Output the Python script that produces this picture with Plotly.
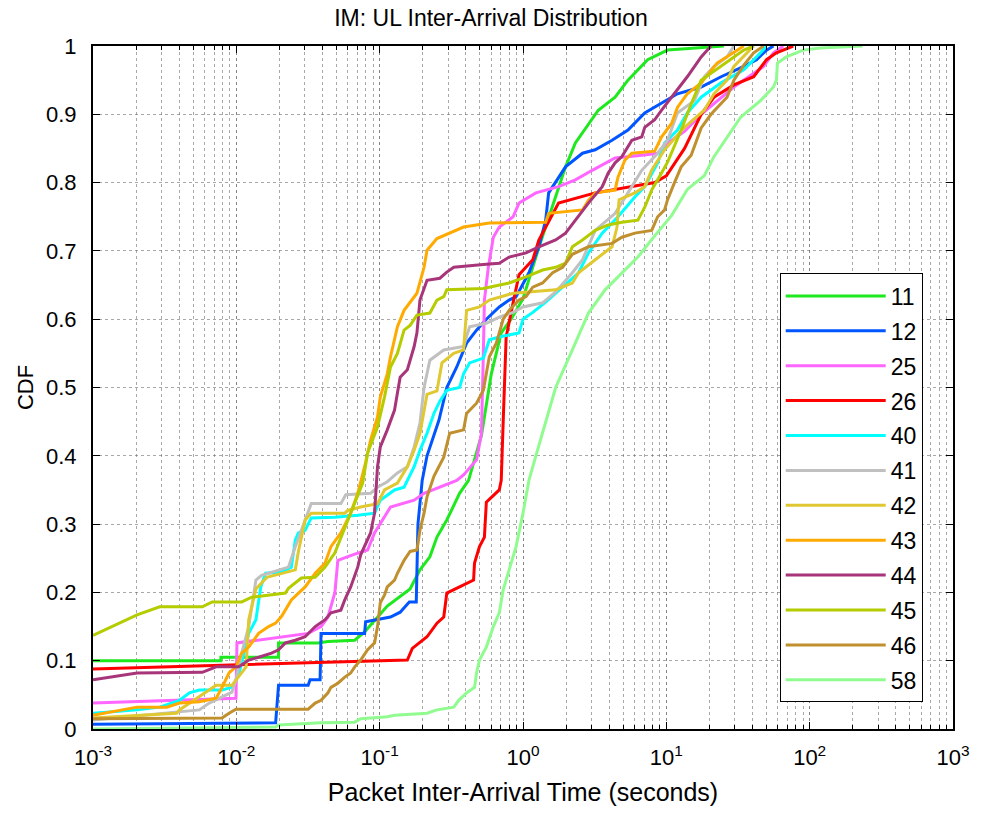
import plotly.graph_objects as go

# Empirical CDFs of uplink packet inter-arrival times (seconds) per device
t_11 = [0.001, 0.0078, 0.0078, 0.0197, 0.0197, 0.0372, 0.0436, 0.067, 0.0785, 0.0966, 0.113, 0.163, 0.191, 0.224, 0.251, 0.294, 0.361, 0.417, 0.513, 0.601, 0.705, 0.826, 1.0, 1.29, 1.64, 1.98, 2.32, 3.35, 4.39, 5.40, 7.41, 10.2, 25.2]
p_11 = [0.100, 0.100, 0.105, 0.105, 0.126, 0.126, 0.128, 0.130, 0.142, 0.163, 0.180, 0.205, 0.233, 0.252, 0.281, 0.306, 0.345, 0.364, 0.43, 0.52, 0.58, 0.60, 0.63, 0.705, 0.77, 0.823, 0.858, 0.906, 0.925, 0.95, 0.98, 0.994, 1.0]

t_12 = [0.001, 0.0188, 0.0197, 0.0317, 0.0327, 0.0384, 0.039, 0.0785, 0.0798, 0.119, 0.139, 0.161, 0.18, 0.185, 0.198, 0.214, 0.259, 0.294, 0.345, 0.404, 0.474, 0.555, 0.683, 0.80, 0.895, 1.10, 1.29, 1.44, 1.51, 1.98, 2.60, 3.19, 4.18, 5.40, 7.07, 9.27, 11.95, 17.5, 24.1, 34.7, 42.6, 50.0, 55.9]
p_12 = [0.007, 0.009, 0.064, 0.064, 0.072, 0.072, 0.14, 0.14, 0.157, 0.164, 0.171, 0.186, 0.186, 0.30, 0.364, 0.40, 0.452, 0.50, 0.53, 0.565, 0.584, 0.60, 0.618, 0.628, 0.633, 0.668, 0.706, 0.745, 0.785, 0.823, 0.843, 0.848, 0.862, 0.877, 0.902, 0.917, 0.93, 0.94, 0.955, 0.97, 0.98, 0.994, 1.0]

t_25 = [0.001, 0.00994, 0.0101, 0.0317, 0.039, 0.0436, 0.0487, 0.0511, 0.067, 0.0824, 0.0921, 0.119, 0.174, 0.204, 0.345, 0.385, 0.474, 0.513, 0.529, 0.538, 0.573, 0.621, 0.683, 0.853, 0.938, 1.23, 1.77, 2.32, 3.04, 4.39, 6.74, 8.70, 10.2, 13.4, 17.5, 29.6, 47.7, 55.9, 65.5]
p_25 = [0.038, 0.045, 0.126, 0.14, 0.15, 0.164, 0.20, 0.247, 0.256, 0.262, 0.287, 0.325, 0.335, 0.345, 0.364, 0.372, 0.394, 0.433, 0.55, 0.628, 0.676, 0.72, 0.735, 0.75, 0.77, 0.785, 0.794, 0.804, 0.818, 0.836, 0.84, 0.843, 0.858, 0.875, 0.90, 0.94, 0.97, 0.99, 1.0]

t_26 = [0.001, 0.113, 0.156, 0.169, 0.214, 0.251, 0.280, 0.294, 0.452, 0.459, 0.497, 0.538, 0.555, 0.683, 0.705, 0.728, 0.763, 0.853, 0.938, 1.17, 1.29, 1.77, 3.19, 6.03, 8.29, 10.0, 13.4, 17.5, 21.5, 29.6, 40.7, 50.0, 58.6, 76.8]
p_26 = [0.088, 0.101, 0.101, 0.118, 0.135, 0.155, 0.164, 0.199, 0.218, 0.243, 0.267, 0.281, 0.332, 0.35, 0.364, 0.452, 0.574, 0.624, 0.665, 0.687, 0.716, 0.77, 0.785, 0.795, 0.80, 0.81, 0.85, 0.90, 0.925, 0.943, 0.955, 0.98, 0.99, 1.0]

t_40 = [0.001, 0.00203, 0.00292, 0.00401, 0.00471, 0.00552, 0.00795, 0.00932, 0.0104, 0.0122, 0.0137, 0.0148, 0.016, 0.0207, 0.0242, 0.0258, 0.0271, 0.0302, 0.0333, 0.0487, 0.0703, 0.0921, 0.101, 0.127, 0.148, 0.174, 0.191, 0.214, 0.239, 0.263, 0.294, 0.361, 0.385, 0.424, 0.529, 0.582, 0.683, 0.938, 1.0, 1.17, 1.44, 1.89, 2.44, 2.86, 3.57, 4.60, 6.03, 7.07, 8.70, 9.72, 11.95, 14.0, 17.5, 24.1, 34.7, 45.4, 50.0]
p_40 = [0.023, 0.028, 0.032, 0.042, 0.053, 0.057, 0.057, 0.061, 0.08, 0.14, 0.16, 0.208, 0.228, 0.23, 0.237, 0.277, 0.287, 0.291, 0.309, 0.31, 0.313, 0.316, 0.335, 0.35, 0.354, 0.384, 0.408, 0.433, 0.462, 0.48, 0.496, 0.50, 0.52, 0.536, 0.543, 0.57, 0.574, 0.58, 0.60, 0.61, 0.625, 0.647, 0.668, 0.697, 0.726, 0.75, 0.779, 0.794, 0.829, 0.858, 0.877, 0.902, 0.925, 0.946, 0.965, 0.99, 1.0]

t_41 = [0.001, 0.00552, 0.00647, 0.00932, 0.00994, 0.0109, 0.0122, 0.0137, 0.015, 0.0231, 0.0258, 0.0284, 0.0333, 0.0536, 0.058, 0.0864, 0.0966, 0.113, 0.133, 0.156, 0.174, 0.191, 0.204, 0.224, 0.280, 0.385, 0.424, 0.555, 0.683, 0.853, 1.0, 1.37, 1.69, 2.21, 2.60, 3.19, 4.39, 5.40, 6.74, 8.70, 10.2, 11.95, 15.7, 18.4, 21.5, 26.5, 29.6]
p_41 = [0.013, 0.028, 0.038, 0.054, 0.072, 0.111, 0.15, 0.218, 0.225, 0.237, 0.267, 0.291, 0.33, 0.33, 0.343, 0.345, 0.354, 0.362, 0.375, 0.384, 0.413, 0.448, 0.50, 0.54, 0.555, 0.56, 0.589, 0.594, 0.603, 0.61, 0.618, 0.624, 0.64, 0.668, 0.687, 0.73, 0.755, 0.785, 0.818, 0.843, 0.862, 0.902, 0.92, 0.955, 0.97, 0.984, 1.0]

t_42 = [0.001, 0.00383, 0.00401, 0.00471, 0.00723, 0.00932, 0.0117, 0.0122, 0.0137, 0.0163, 0.0258, 0.0271, 0.0302, 0.0333, 0.0571, 0.0599, 0.0737, 0.0966, 0.108, 0.133, 0.156, 0.174, 0.191, 0.214, 0.251, 0.272, 0.329, 0.385, 0.404, 0.497, 0.582, 0.853, 1.17, 1.69, 2.21, 2.44, 3.19, 4.18, 4.53, 4.68, 6.03, 7.07, 7.90, 9.72, 13.4, 18.4, 21.5, 26.5, 29.6, 34.7, 40.7]
p_42 = [0.016, 0.023, 0.028, 0.038, 0.064, 0.064, 0.091, 0.16, 0.205, 0.222, 0.233, 0.26, 0.306, 0.316, 0.316, 0.32, 0.325, 0.33, 0.35, 0.36, 0.384, 0.408, 0.433, 0.49, 0.495, 0.536, 0.55, 0.555, 0.613, 0.618, 0.628, 0.638, 0.64, 0.643, 0.653, 0.668, 0.687, 0.706, 0.735, 0.775, 0.785, 0.794, 0.818, 0.848, 0.881, 0.906, 0.93, 0.95, 0.97, 0.985, 1.0]

t_43 = [0.001, 0.00203, 0.00327, 0.00401, 0.00552, 0.00723, 0.00795, 0.00889, 0.00994, 0.0109, 0.0122, 0.0143, 0.0168, 0.0188, 0.0207, 0.0242, 0.0302, 0.0355, 0.0416, 0.0457, 0.0536, 0.0628, 0.0703, 0.0785, 0.0864, 0.0966, 0.101, 0.113, 0.119, 0.133, 0.148, 0.163, 0.182, 0.204, 0.214, 0.251, 0.308, 0.385, 0.582, 1.44, 1.51, 2.60, 2.86, 3.19, 4.39, 4.60, 5.14, 5.75, 8.29, 9.27, 10.9, 11.95, 14.0, 17.5, 22.6, 26.5, 31.0, 34.7]
p_43 = [0.02, 0.032, 0.032, 0.038, 0.04, 0.045, 0.061, 0.082, 0.091, 0.111, 0.12, 0.14, 0.15, 0.155, 0.165, 0.189, 0.208, 0.228, 0.243, 0.267, 0.287, 0.316, 0.345, 0.384, 0.423, 0.457, 0.486, 0.52, 0.545, 0.589, 0.613, 0.624, 0.638, 0.676, 0.701, 0.718, 0.726, 0.735, 0.741, 0.742, 0.755, 0.76, 0.774, 0.785, 0.789, 0.808, 0.833, 0.843, 0.846, 0.867, 0.887, 0.91, 0.93, 0.946, 0.975, 0.984, 0.994, 1.0]

t_44 = [0.001, 0.00203, 0.00579, 0.00723, 0.0104, 0.0122, 0.0143, 0.0176, 0.0197, 0.022, 0.0258, 0.0302, 0.0355, 0.0416, 0.0457, 0.0536, 0.0571, 0.0628, 0.0703, 0.0737, 0.0864, 0.0921, 0.0966, 0.101, 0.113, 0.127, 0.133, 0.139, 0.156, 0.174, 0.182, 0.191, 0.214, 0.263, 0.294, 0.329, 0.529, 0.683, 0.80, 1.05, 1.29, 1.69, 1.98, 2.32, 2.86, 3.57, 3.93, 4.39, 4.90, 5.75, 6.74, 7.07, 8.29, 9.27, 11.4, 14.0, 17.5, 20.5]
p_44 = [0.072, 0.082, 0.083, 0.091, 0.091, 0.101, 0.105, 0.111, 0.116, 0.126, 0.13, 0.135, 0.15, 0.16, 0.17, 0.174, 0.189, 0.208, 0.237, 0.255, 0.287, 0.316, 0.384, 0.413, 0.438, 0.467, 0.492, 0.515, 0.526, 0.56, 0.58, 0.628, 0.657, 0.66, 0.669, 0.676, 0.68, 0.682, 0.691, 0.697, 0.706, 0.716, 0.726, 0.745, 0.77, 0.794, 0.814, 0.829, 0.838, 0.862, 0.867, 0.881, 0.892, 0.906, 0.93, 0.955, 0.984, 1.0]

t_45 = [0.001, 0.00203, 0.00292, 0.00579, 0.00678, 0.0109, 0.0128, 0.022, 0.0231, 0.0284, 0.0355, 0.0416, 0.0487, 0.0553, 0.0649, 0.0761, 0.0824, 0.0966, 0.108, 0.119, 0.133, 0.148, 0.163, 0.182, 0.224, 0.251, 0.280, 0.294, 0.529, 0.80, 1.05, 1.37, 1.69, 1.98, 2.21, 2.60, 3.19, 3.93, 4.90, 6.33, 7.07, 7.90, 8.70, 10.2, 12.7, 14.9, 17.5, 24.1, 29.6, 34.7, 40.7]
p_45 = [0.137, 0.167, 0.179, 0.179, 0.186, 0.186, 0.193, 0.199, 0.206, 0.221, 0.222, 0.237, 0.258, 0.287, 0.325, 0.36, 0.404, 0.442, 0.486, 0.53, 0.55, 0.584, 0.591, 0.606, 0.609, 0.628, 0.633, 0.643, 0.645, 0.653, 0.662, 0.672, 0.676, 0.682, 0.706, 0.716, 0.73, 0.738, 0.742, 0.745, 0.764, 0.789, 0.804, 0.83, 0.877, 0.915, 0.95, 0.97, 0.984, 0.994, 1.0]

t_46 = [0.001, 0.00795, 0.00889, 0.00994, 0.0317, 0.0355, 0.039, 0.0436, 0.0457, 0.0511, 0.0571, 0.0628, 0.067, 0.0737, 0.0824, 0.0921, 0.0966, 0.101, 0.108, 0.113, 0.127, 0.133, 0.148, 0.163, 0.182, 0.191, 0.204, 0.214, 0.239, 0.280, 0.308, 0.385, 0.404, 0.474, 0.529, 0.582, 0.651, 0.728, 0.80, 0.938, 1.05, 1.17, 1.37, 1.61, 1.89, 2.21, 2.86, 4.18, 4.90, 6.03, 7.90, 8.70, 9.72, 10.2, 11.4, 12.7, 14.9, 17.5, 20.5, 26.5, 29.6, 34.7, 40.7, 47.7]
p_46 = [0.015, 0.016, 0.023, 0.029, 0.029, 0.038, 0.042, 0.053, 0.061, 0.067, 0.076, 0.082, 0.091, 0.101, 0.116, 0.126, 0.15, 0.185, 0.196, 0.208, 0.218, 0.228, 0.247, 0.26, 0.262, 0.291, 0.316, 0.34, 0.37, 0.398, 0.433, 0.438, 0.462, 0.477, 0.496, 0.545, 0.565, 0.60, 0.613, 0.628, 0.633, 0.647, 0.653, 0.668, 0.676, 0.695, 0.706, 0.711, 0.72, 0.726, 0.73, 0.75, 0.76, 0.775, 0.80, 0.823, 0.84, 0.88, 0.90, 0.925, 0.95, 0.972, 0.99, 1.0]

t_58 = [0.001, 0.0188, 0.0197, 0.039, 0.067, 0.0737, 0.113, 0.127, 0.214, 0.251, 0.329, 0.356, 0.404, 0.459, 0.474, 0.497, 0.555, 0.621, 0.683, 0.728, 0.80, 0.895, 1.0, 1.10, 1.23, 1.44, 1.69, 2.21, 2.86, 3.74, 4.90, 6.33, 8.29, 10.9, 14.0, 18.4, 21.5, 26.5, 33.1, 45.4, 55.9, 58.6, 59.6, 68.7, 90.0, 118, 234]
p_58 = [0.0, 0.003, 0.006, 0.009, 0.01, 0.015, 0.018, 0.02, 0.023, 0.028, 0.032, 0.042, 0.053, 0.061, 0.082, 0.101, 0.12, 0.15, 0.17, 0.204, 0.233, 0.267, 0.316, 0.364, 0.40, 0.45, 0.50, 0.555, 0.609, 0.643, 0.668, 0.691, 0.722, 0.752, 0.79, 0.81, 0.838, 0.867, 0.896, 0.92, 0.94, 0.95, 0.975, 0.984, 0.994, 0.997, 1.0]

series = [
    ("11", t_11, p_11, "#1ee81e"),
    ("12", t_12, p_12, "#0055ff"),
    ("25", t_25, p_25, "#ff66ff"),
    ("26", t_26, p_26, "#ff0000"),
    ("40", t_40, p_40, "#00ffff"),
    ("41", t_41, p_41, "#c0c0c0"),
    ("42", t_42, p_42, "#e0c830"),
    ("43", t_43, p_43, "#ffaa00"),
    ("44", t_44, p_44, "#a8357a"),
    ("45", t_45, p_45, "#b4cc00"),
    ("46", t_46, p_46, "#c08f2e"),
    ("58", t_58, p_58, "#90fc90"),
]

decades = [1e-3, 1e-2, 1e-1, 1e0, 1e1, 1e2, 1e3]
decade_labels = ["10<sup>-3</sup>", "10<sup>-2</sup>", "10<sup>-1</sup>", "10<sup>0</sup>",
                 "10<sup>1</sup>", "10<sup>2</sup>", "10<sup>3</sup>"]

FONT = "Liberation Sans, Arial, sans-serif"
GRID = "rgba(110,110,110,0.6)"

fig = go.Figure()
for name, t, p, color in series:
    fig.add_trace(go.Scatter(
        x=t, y=p, mode="lines", name=name, legendgroup=name,
        line=dict(color=color, width=3),
    ))

fig.update_layout(
    width=982, height=814,
    margin=dict(l=93, r=20, t=46, b=85),
    paper_bgcolor="white", plot_bgcolor="white",
    font=dict(family=FONT, size=22, color="black"),
    title=dict(text="IM: UL Inter-Arrival Distribution", x=0.5, xanchor="center",
               y=1 - 18 / 814, yanchor="middle", yref="container",
               font=dict(size=23, family=FONT)),
    showlegend=True,
    legend=dict(x=0.7985, y=0.667, xanchor="left", yanchor="top",
                bgcolor="white", bordercolor="black", borderwidth=1,
                font=dict(size=23, family=FONT), itemwidth=100,
                tracegroupgap=2),
)

fig.update_xaxes(
    type="log", range=[-3, 3],
    tickmode="array", tickvals=decades, ticktext=decade_labels,
    ticks="inside", ticklen=7, tickcolor="black", tickwidth=1,
    showline=True, linecolor="black", linewidth=2, mirror="ticks",
    showgrid=True, gridcolor=GRID, griddash="dot", gridwidth=1,
    minor=dict(dtick="D1", ticks="inside", ticklen=4, tickcolor="black",
               showgrid=True, gridcolor=GRID, griddash="dot", gridwidth=1),
    zeroline=False, ticklabelstandoff=8,
    tickfont=dict(size=22, family=FONT),
    title=dict(text="Packet Inter-Arrival Time (seconds)", font=dict(size=25, family=FONT), standoff=14),
)

fig.update_yaxes(
    range=[0, 1], dtick=0.1, tick0=0,
    ticks="inside", ticklen=7, tickcolor="black", tickwidth=1,
    showline=True, linecolor="black", linewidth=2, mirror="ticks",
    showgrid=True, gridcolor=GRID, griddash="dot", gridwidth=1,
    zeroline=False, ticklabelstandoff=10,
    tickfont=dict(size=22, family=FONT),
    title=dict(text="CDF", font=dict(size=22, family=FONT), standoff=6),
)

fig.write_html("out.html")
